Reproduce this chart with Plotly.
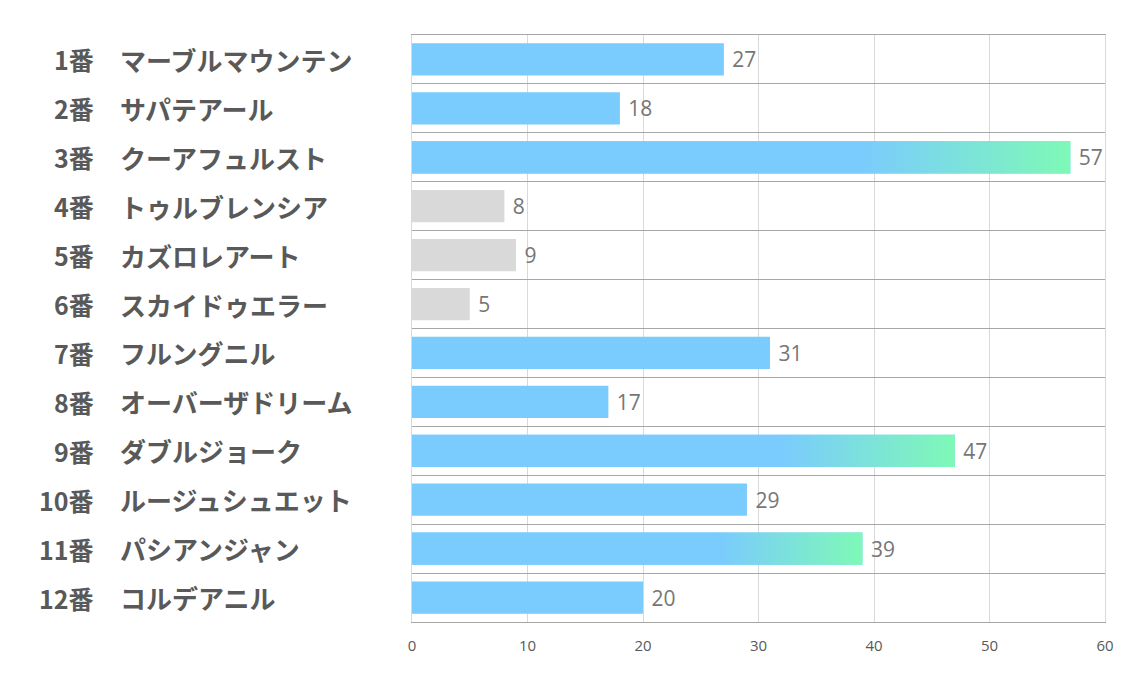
"""Horizontal bar chart of horse scores with gradient highlight bars."""

import plotly.graph_objects as go

numbers = ["1番", "2番", "3番", "4番", "5番", "6番", "7番", "8番", "9番", "10番", "11番", "12番"]
names = [
    "マーブルマウンテン", "サパテアール", "クーアフュルスト", "トゥルブレンシア",
    "カズロレアート", "スカイドゥエラー", "フルングニル", "オーバーザドリーム",
    "ダブルジョーク", "ルージュシュエット", "パシアンジャン", "コルデアニル",
]
scores = [27, 18, 57, 8, 9, 5, 31, 17, 47, 29, 39, 20]
grey_rows = [3, 4, 5]        # dimmed entries (4番, 5番, 6番)
gradient_rows = [2, 8, 10]   # highlighted entries (3番, 9番, 11番)
x_ticks = [0, 10, 20, 30, 40, 50, 60]

BLUE = "#7ACBFE"
GREEN = "#7EF9B6"
GREY = "#D9D9D9"
BAR_W = 0.66

rows = list(range(len(scores)))
bar_colors = [GREY if i in grey_rows else BLUE for i in rows]

fig = go.Figure()
fig.add_trace(
    go.Bar(
        x=scores,
        y=rows,
        orientation="h",
        width=BAR_W,
        marker=dict(color=bar_colors, line=dict(width=0)),
        text=[f" {v}" for v in scores],
        textposition="outside",
        textfont=dict(family="Open Sans", size=21, color="#767676"),
        cliponaxis=False,
        hoverinfo="skip",
    )
)

# gradient overlay for highlighted bars (blue fading to green at the tip)
for i in gradient_rows:
    v = scores[i]
    y0, y1 = i - BAR_W / 2, i + BAR_W / 2
    fig.add_trace(
        go.Scatter(
            x=[0, v, v, 0, 0],
            y=[y0, y0, y1, y1, y0],
            mode="lines",
            line=dict(width=0),
            fill="toself",
            fillgradient=dict(
                type="horizontal",
                start=0,
                stop=v,
                colorscale=[[0, BLUE], [0.68, BLUE], [1, GREEN]],
            ),
            hoverinfo="skip",
            showlegend=False,
        )
    )

# page body adds an 8px offset, so the figure is sized to compensate
W, H = 1118, 664
L, T = 404, 27
PLOT_W, PLOT_H = 693, 587
R, B = W - L - PLOT_W, H - T - PLOT_H

label_font = dict(family="Noto Sans CJK JP", size=25, color="#595959")
for i in rows:
    fig.add_annotation(
        x=(88 - L) / PLOT_W, y=i, xref="paper", yref="y",
        text=f"<b>{numbers[i]}</b>", xanchor="right", showarrow=False,
        font=label_font,
    )
    fig.add_annotation(
        x=(110 - L) / PLOT_W, y=i, xref="paper", yref="y",
        text=f"<b>{names[i]}</b>", xanchor="left", showarrow=False,
        font=dict(label_font, size=26),
    )

fig.update_layout(
    width=W,
    height=H,
    margin=dict(l=L, r=R, t=T, b=B),
    plot_bgcolor="white",
    paper_bgcolor="white",
    showlegend=False,
    xaxis=dict(
        range=[0, 60],
        tickvals=x_ticks,
        showgrid=True,
        gridcolor="#D9D9D9",
        gridwidth=1,
        zeroline=False,
        showline=True,
        linecolor="#A6A6A6",
        mirror=True,
        ticks="",
        ticklabelstandoff=10,
        tickfont=dict(family="Open Sans", size=15, color="#595959"),
    ),
    yaxis=dict(
        range=[len(scores) - 0.5, -0.5],
        tickvals=[i - 0.5 for i in range(len(scores) + 1)],
        showticklabels=False,
        showgrid=True,
        gridcolor="#A6A6A6",
        gridwidth=1,
        zeroline=False,
        showline=True,
        linecolor="#D9D9D9",
        mirror=True,
        ticks="",
    ),
)

fig.write_html("out.html")
